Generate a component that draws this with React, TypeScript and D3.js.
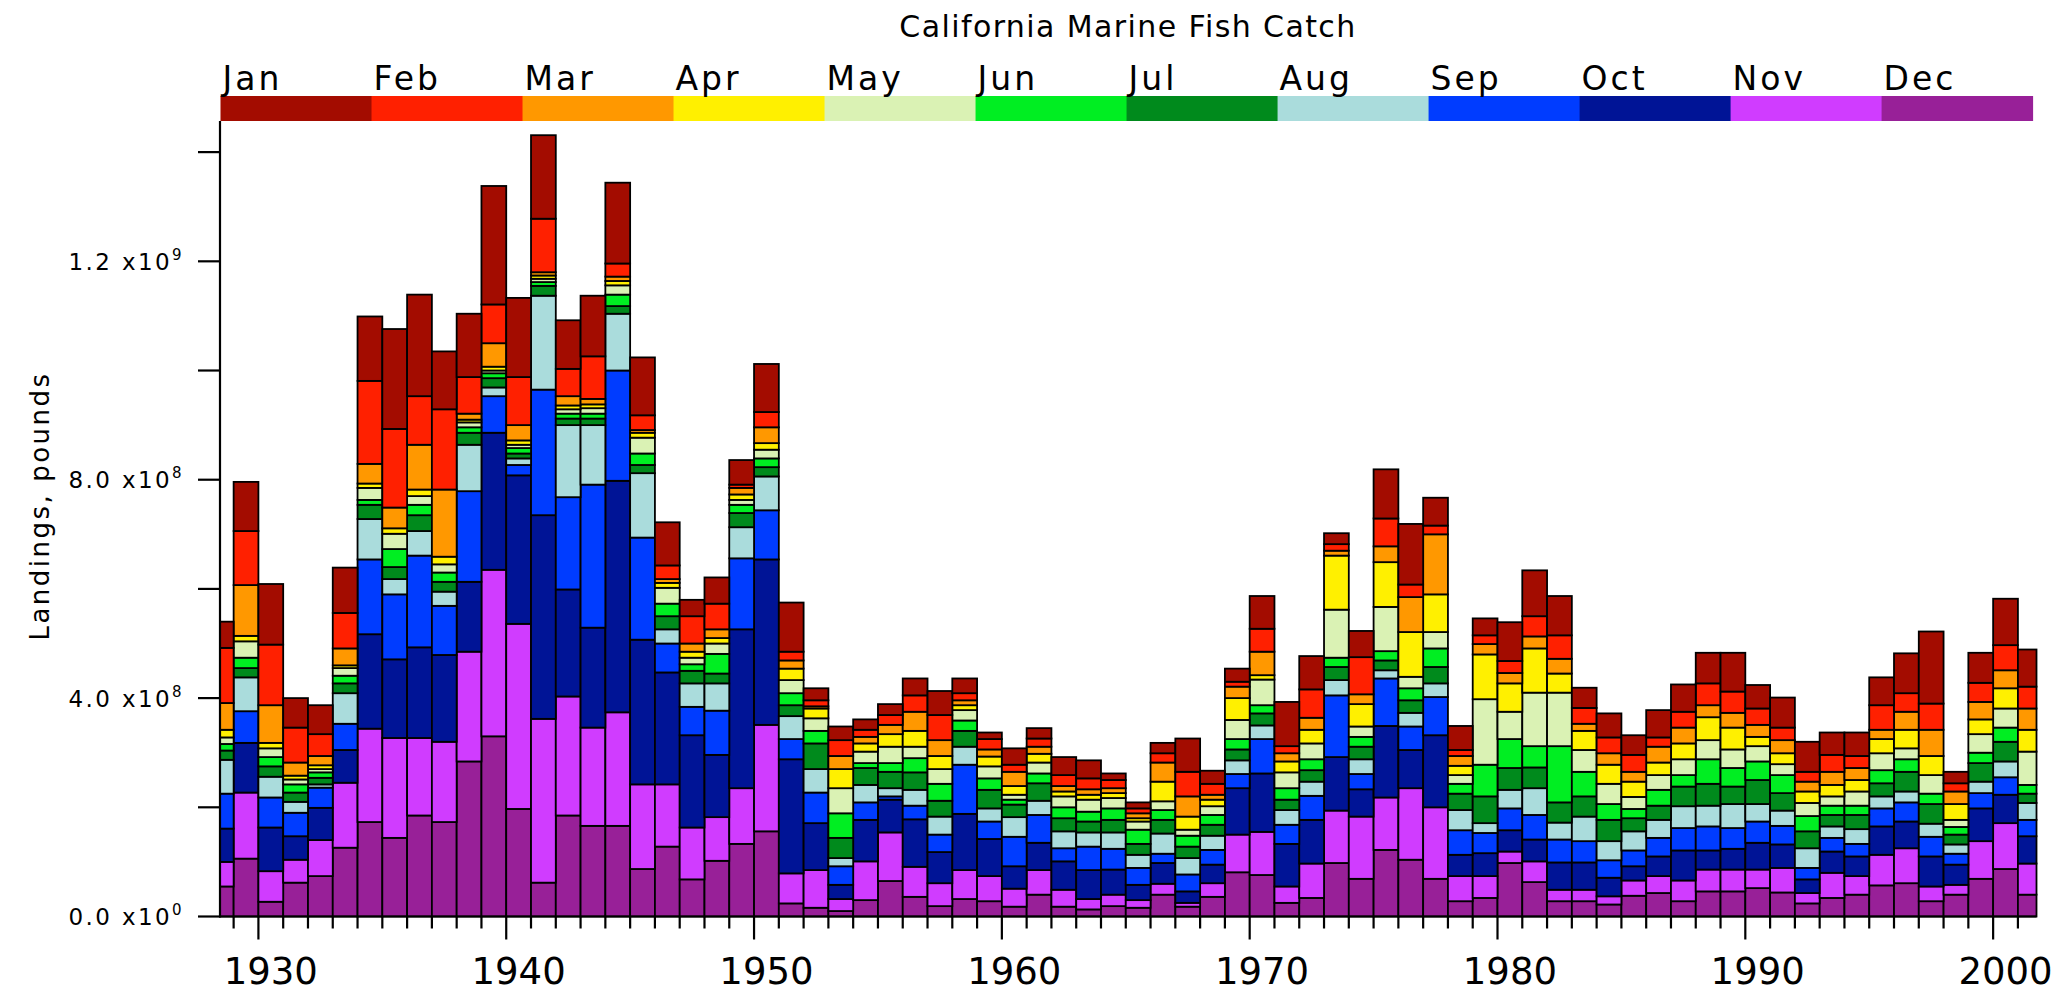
import React from 'react';
import * as d3 from 'd3';

// ---------- data (millions of pounds) ----------
const YEARS = [
  1928, 1929, 1930, 1931, 1932, 1933, 1934, 1935, 1936, 1937,
  1938, 1939, 1940, 1941, 1942, 1943, 1944, 1945, 1946, 1947,
  1948, 1949, 1950, 1951, 1952, 1953, 1954, 1955, 1956, 1957,
  1958, 1959, 1960, 1961, 1962, 1963, 1964, 1965, 1966, 1967,
  1968, 1969, 1970, 1971, 1972, 1973, 1974, 1975, 1976, 1977,
  1978, 1979, 1980, 1981, 1982, 1983, 1984, 1985, 1986, 1987,
  1988, 1989, 1990, 1991, 1992, 1993, 1994, 1995, 1996, 1997,
  1998, 1999, 2000, 2001,
];

const MONTHS = ['Jan', 'Feb', 'Mar', 'Apr', 'May', 'Jun', 'Jul', 'Aug', 'Sep', 'Oct', 'Nov', 'Dec'];

const MONTH_COLORS = [
  '#a30c00', '#ff2000', '#ff9800', '#fff000', '#daf2b4', '#00ee22',
  '#008a1c', '#aadcdc', '#003cff', '#001496', '#d03cff', '#982098',
];

const JAN = [
  48, 90, 111, 54, 53, 83, 118, 183, 186, 106,
  116, 217, 145, 153, 89, 111, 148, 106, 79, 30,
  48, 45, 88, 90, 22, 25, 19, 20, 31, 44,
  27, 12, 30, 19, 33, 33, 12, 11, 19, 61,
  24, 24, 60, 81, 61, 20, 48, 90, 111, 51,
  44, 31, 71, 84, 72, 37, 44, 36, 50, 50,
  56, 71, 43, 55, 55, 41, 43, 51, 73, 132,
  21, 55, 85, 68,
];
const FEB = [
  101, 99, 111, 64, 40, 65, 152, 144, 89, 147,
  67, 71, 88, 98, 50, 78, 24, 27, 25, 50,
  47, 6, 28, 16, 11, 29, 13, 18, 30, 46,
  13, 19, 13, 15, 20, 20, 15, 9, 17, 45,
  20, 9, 42, 13, 52, 12, 68, 51, 23, 16,
  11, 16, 22, 37, 43, 29, 29, 31, 17, 29,
  40, 39, 30, 23, 18, 31, 22, 45, 34, 48,
  15, 35, 46, 40,
];
const MAR = [
  49, 93, 69, 24, 17, 31, 36, 38, 82, 123,
  11, 43, 28, 6, 17, 10, 8, 5, 7, 15,
  16, 12, 29, 15, 4, 24, 12, 17, 35, 29,
  9, 13, 26, 13, 10, 10, 9, 9, 35, 37,
  9, 21, 43, 15, 22, 9, 18, 29, 64, 110,
  18, 19, 19, 22, 27, 13, 21, 18, 29, 29,
  22, 27, 22, 24, 18, 24, 22, 17, 33, 48,
  23, 32, 33, 39,
];
const APR = [
  14, 10, 10, 7, 7, 5, 8, 10, 12, 14,
  5, 7, 8, 6, 7, 7, 8, 9, 9, 11,
  10, 10, 12, 21, 18, 35, 15, 23, 29, 24,
  9, 18, 16, 16, 9, 9, 9, 6, 36, 24,
  12, 40, 8, 20, 25, 99, 41, 82, 82, 69,
  17, 82, 52, 81, 35, 35, 35, 28, 23, 29,
  42, 40, 17, 20, 21, 21, 21, 26, 34, 35,
  29, 27, 37, 40,
];
const MAY = [
  12, 30, 16, 9, 6, 14, 22, 28, 16, 15,
  9, 5, 6, 6, 8, 10, 17, 29, 29, 12,
  19, 9, 16, 24, 23, 46, 21, 30, 21, 27,
  19, 22, 9, 20, 20, 22, 19, 15, 16, 11,
  16, 35, 47, 29, 29, 88, 19, 81, 21, 30,
  16, 120, 50, 98, 98, 40, 37, 22, 27, 29,
  35, 34, 28, 20, 24, 17, 26, 31, 20, 34,
  13, 34, 35, 61,
];
const JUN = [
  12, 19, 17, 15, 10, 14, 9, 33, 19, 17,
  10, 9, 10, 7, 9, 9, 21, 21, 23, 12,
  36, 15, 16, 22, 23, 45, 9, 16, 26, 31,
  19, 21, 9, 18, 20, 18, 21, 26, 18, 20,
  18, 19, 15, 21, 20, 17, 18, 17, 22, 34,
  18, 58, 53, 39, 103, 45, 29, 17, 29, 21,
  45, 34, 34, 33, 28, 17, 17, 24, 23, 19,
  14, 19, 26, 16,
];
const JUL = [
  17, 17, 19, 17, 12, 18, 26, 22, 29, 18,
  22, 17, 9, 18, 12, 12, 14, 15, 24, 23,
  18, 26, 17, 20, 47, 37, 31, 30, 32, 29,
  29, 34, 23, 32, 24, 20, 23, 20, 25, 21,
  20, 20, 22, 19, 21, 24, 23, 18, 23, 30,
  30, 49, 40, 38, 37, 37, 39, 24, 26, 36,
  40, 32, 44, 32, 31, 21, 26, 24, 36, 36,
  18, 34, 36, 17,
];
const AUG = [
  62, 62, 38, 20, 6, 56, 74, 28, 45, 26,
  85, 16, 12, 172, 132, 109, 104, 118, 26, 43,
  50, 57, 62, 42, 43, 15, 32, 15, 29, 33,
  33, 24, 36, 26, 31, 26, 30, 24, 37, 30,
  26, 25, 25, 27, 26, 28, 27, 15, 25, 25,
  37, 18, 34, 49, 31, 45, 35, 35, 33, 40,
  38, 44, 32, 28, 36, 21, 27, 22, 20, 24,
  17, 21, 29, 31,
];
const SEP = [
  64, 58, 55, 43, 37, 48, 137, 119, 168, 90,
  166, 67, 19, 230, 169, 262, 202, 187, 53, 52,
  81, 130, 90, 37, 56, 34, 32, 6, 25, 32,
  90, 32, 54, 51, 24, 43, 38, 31, 17, 31,
  27, 26, 63, 35, 44, 113, 28, 87, 43, 70,
  45, 37, 40, 45, 42, 39, 32, 29, 34, 41,
  44, 38, 39, 34, 21, 25, 23, 33, 35, 36,
  20, 28, 32, 30,
];
const OCT = [
  61, 91, 80, 43, 59, 60, 173, 144, 166, 159,
  128, 251, 272, 373, 196, 183, 424, 265, 205, 169,
  114, 291, 303, 209, 86, 26, 76, 60, 87, 57,
  103, 68, 41, 50, 52, 53, 46, 28, 38, 21,
  34, 85, 107, 78, 80, 98, 50, 131, 70, 132,
  39, 42, 39, 40, 50, 50, 34, 26, 36, 55,
  35, 38, 49, 43, 25, 39, 36, 52, 49, 55,
  37, 60, 52, 50,
];
const NOV = [
  45, 121, 56, 42, 66, 119, 171, 183, 142, 147,
  201, 305, 339, 300, 218, 180, 208, 155, 114, 95,
  80, 102, 195, 55, 69, 22, 71, 89, 55, 42,
  53, 46, 33, 45, 31, 19, 21, 14, 20, 7,
  25, 69, 79, 30, 63, 96, 114, 96, 131, 131,
  46, 40, 21, 38, 21, 21, 15, 28, 31, 38,
  40, 40, 34, 45, 19, 46, 34, 56, 64, 27,
  18, 69, 84, 57,
];
const DEC = [
  55, 106, 27, 62, 74, 126, 173, 144, 185, 173,
  284, 330, 197, 62, 185, 166, 166, 87, 128, 68,
  102, 133, 156, 24, 16, 10, 30, 65, 36, 19,
  32, 28, 18, 40, 18, 13, 19, 16, 40, 18,
  36, 81, 76, 25, 34, 98, 69, 122, 104, 69,
  28, 34, 98, 63, 28, 28, 22, 38, 43, 28,
  46, 46, 52, 44, 24, 34, 40, 57, 61, 28,
  40, 69, 87, 40,
];

const SERIES = [JAN, FEB, MAR, APR, MAY, JUN, JUL, AUG, SEP, OCT, NOV, DEC];

const Y_TICKS = [0, 2e8, 4e8, 6e8, 8e8, 1e9, 1.2e9, 1.4e9];
const Y_LABELED = [0, 4e8, 8e8, 1.2e9];
const DECADES = [1930, 1940, 1950, 1960, 1970, 1980, 1990, 2000];

const TITLE = 'California Marine Fish Catch';
const Y_TITLE = 'Landings, pounds';

// ---------- layout ----------
const W = 2064;
const H = 995;
const X_LEFT = 220;
const X_RIGHT = 2036.5;
const X_DOMAIN: [number, number] = [1928.45, 2001.75];
const Y_BASE = 916.5;
const Y_TOP = 121;
const Y_MAX = 1.457e9;
const FONT = '"DejaVu Sans", Arial, sans-serif';

function fmtLabel(v: number) {
  const e = v === 0 ? 0 : Math.floor(Math.log10(v));
  const m = v / Math.pow(10, e);
  return { mant: m.toFixed(1), exp: String(e) };
}

export default function App() {
  const x = d3.scaleLinear().domain(X_DOMAIN).range([X_LEFT, X_RIGHT]);
  const y = d3.scaleLinear().domain([0, Y_MAX]).range([Y_BASE, Y_TOP]);

  const rows = YEARS.map((yr, i) => {
    const r: any = { year: yr };
    MONTHS.forEach((m, k) => {
      r[m] = SERIES[k][i] * 1e6;
    });
    return r;
  });
  const keys = [...MONTHS].reverse(); // Dec at bottom, Jan on top
  const layers = d3.stack<any>().keys(keys)(rows);
  const colorOf = (m: string) => MONTH_COLORS[MONTHS.indexOf(m)];

  const legendX0 = 220.5;
  const legendX1 = 2032.6;
  const legend = d3
    .scaleBand<string>()
    .domain(MONTHS)
    .range([legendX0, legendX1])
    .padding(0);

  const yearTicks = d3.range(Math.ceil(X_DOMAIN[0]), Math.floor(X_DOMAIN[1]) + 1);

  return (
    <svg
      width={W}
      height={H}
      style={{ position: 'absolute', left: 0, top: 0, background: '#fff' }}
      fontFamily={FONT}
    >
      <rect x={0} y={0} width={W} height={H} fill="#fff" />

      {/* title */}
      <text x={1128} y={37} textAnchor="middle" fontSize={30} letterSpacing={1.4} fill="#000">
        {TITLE}
      </text>

      {/* legend */}
      {MONTHS.map((m, k) => (
        <g key={m}>
          <rect
            x={legend(m)!}
            y={96}
            width={legend.bandwidth() + 0.5}
            height={25}
            fill={MONTH_COLORS[k]}
          />
          <text x={legend(m)! + 2} y={90} fontSize={33} letterSpacing={3} fill="#000">
            {m}
          </text>
        </g>
      ))}

      {/* bars */}
      {layers.map((layer) => (
        <g key={layer.key} fill={colorOf(layer.key)} stroke="#000" strokeWidth={1.8}>
          {layer.map((d: any) => {
            const yr = d.data.year;
            const a = Math.max(yr, X_DOMAIN[0]);
            const b = Math.min(yr + 1, X_DOMAIN[1]);
            const y1 = y(d[1]);
            const y0 = y(d[0]);
            return (
              <rect
                key={yr}
                x={x(a)}
                y={y1}
                width={x(b) - x(a)}
                height={Math.max(0, y0 - y1)}
              />
            );
          })}
        </g>
      ))}

      {/* y axis */}
      <line x1={X_LEFT} x2={X_LEFT} y1={Y_TOP} y2={Y_BASE + 1} stroke="#000" strokeWidth={2.2} />
      {Y_TICKS.map((v) => (
        <line key={v} x1={X_LEFT - 22} x2={X_LEFT} y1={y(v)} y2={y(v)} stroke="#000" strokeWidth={2.2} />
      ))}
      {Y_LABELED.map((v) => {
        const { mant, exp } = fmtLabel(v);
        return (
          <text
            key={v}
            x={184}
            y={y(v) + 8.5}
            textAnchor="end"
            fontSize={23}
            letterSpacing={2.4}
            fill="#000"
          >
            {mant + ' x10'}
            <tspan fontSize={15} dy={-10}>
              {exp}
            </tspan>
          </text>
        );
      })}
      <text
        transform={`translate(49, 506) rotate(-90)`}
        textAnchor="middle"
        fontSize={26}
        letterSpacing={2.5}
        fill="#000"
      >
        {Y_TITLE}
      </text>

      {/* x axis */}
      <line x1={X_LEFT} x2={X_RIGHT} y1={Y_BASE} y2={Y_BASE} stroke="#000" strokeWidth={2.2} />
      {yearTicks.map((yr) => (
        <line
          key={yr}
          x1={x(yr)}
          x2={x(yr)}
          y1={Y_BASE}
          y2={Y_BASE + (yr % 10 === 0 ? 23 : 12)}
          stroke="#000"
          strokeWidth={2.2}
        />
      ))}
      {DECADES.map((yr) => (
        <text key={yr} x={x(yr + 0.5)} y={984} textAnchor="middle" fontSize={37} fill="#000">
          {yr}
        </text>
      ))}
    </svg>
  );
}
